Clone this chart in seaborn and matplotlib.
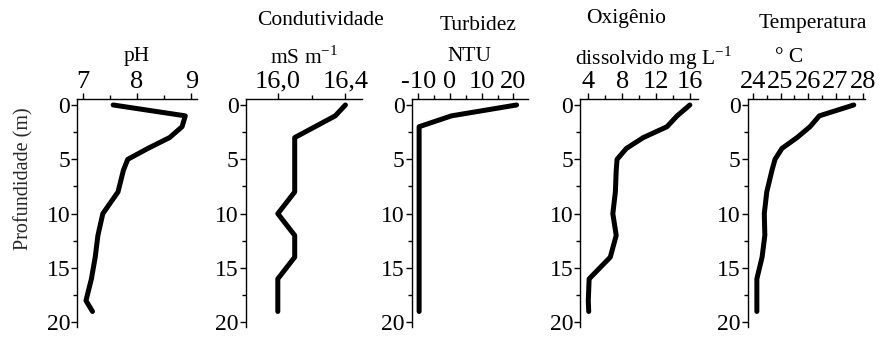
import matplotlib
matplotlib.use("Agg")
import matplotlib.pyplot as plt
import seaborn as sns
import numpy as np
import pandas as pd
from matplotlib.ticker import MultipleLocator, FixedLocator, FuncFormatter

depth = [0, 1, 2, 3, 4, 5, 6, 8, 10, 12, 14, 16, 18, 19]
ph = [7.56, 8.89, 8.83, 8.6, 8.2, 7.83, 7.75, 7.65, 7.37, 7.28, 7.23, 7.16, 7.06, 7.18]
cond = [16.4, 16.34, 16.22, 16.1, 16.1, 16.1, 16.1, 16.1, 16.0, 16.1, 16.1, 16.0, 16.0, 16.0]
turb = [21.0, 0.5, -9.7, -9.7, -9.7, -9.7, -9.7, -9.7, -9.7, -9.7, -9.7, -9.7, -9.7, -9.7]
oxy = [16.0, 14.5, 13.3, 10.5, 8.5, 7.4, 7.3, 7.2, 6.9, 7.3, 6.6, 4.1, 4.0, 4.05]
temp = [27.66, 26.41, 26.07, 25.6, 25.05, 24.8, 24.69, 24.5, 24.41, 24.43, 24.33, 24.14, 24.14, 24.14]

ph_ticks = [7, 8, 9]
cond_ticks = [16.0, 16.4]
turb_ticks = [-10, 0, 10, 20]
oxy_ticks = [4, 8, 12, 16]
temp_ticks = [24, 25, 26, 27, 28]
depth_ticks = [0, 5, 10, 15, 20]

sns.set_theme(style="white")
plt.rcParams["font.family"] = ["Liberation Serif", "DejaVu Serif"]
plt.rcParams["mathtext.fontset"] = "custom"
plt.rcParams["mathtext.rm"] = "Liberation Serif"

fig = plt.figure(figsize=(8.8, 3.37), dpi=100)
W, H = 880, 337
top_px, bot_px = 99, 326.7

panels = [
    (ph, (77.3, 196.7), (6.9, 9.1), ph_ticks, 0.5, None),
    (cond, (245.7, 362.3), (15.81, 16.5), cond_ticks, 0.2, lambda v, p: f"{v:.1f}".replace(".", ",")),
    (turb, (411.5, 528.3), (-12.1, 24.7), turb_ticks, 5, None),
    (oxy, (580, 698.3), (3.02, 17.0), oxy_ticks, 2, None),
    (temp, (747.5, 864.5), (23.8, 28.05), temp_ticks, 0.5, None),
]

axes = []
for vals, (l, r), xlim, ticks, minor, fmt in panels:
    ax = fig.add_axes([l / W, 1 - bot_px / H, (r - l) / W, (bot_px - top_px) / H])
    df = pd.DataFrame({"v": vals, "d": depth})
    sns.lineplot(data=df, x="v", y="d", sort=False, estimator=None,
                 color="black", linewidth=3.6, ax=ax)
    ax.set_xlim(*xlim)
    ax.set_ylim(20.4, -0.55)
    ax.xaxis.tick_top()
    ax.xaxis.set_major_locator(FixedLocator(ticks))
    ax.xaxis.set_minor_locator(MultipleLocator(minor))
    if fmt:
        ax.xaxis.set_major_formatter(FuncFormatter(fmt))
    else:
        ax.xaxis.set_major_formatter(FuncFormatter(lambda v, p: f"{v:g}"))
    ax.yaxis.set_major_locator(FixedLocator(depth_ticks))
    ax.yaxis.set_minor_locator(MultipleLocator(2.5))
    for s in ["right", "bottom"]:
        ax.spines[s].set_visible(False)
    for s in ["left", "top"]:
        ax.spines[s].set_color("black")
        ax.spines[s].set_linewidth(1.0)
    ax.tick_params(axis="both", which="major", direction="out", length=4, width=1,
                   pad=1, colors="black")
    ax.tick_params(axis="x", which="major", labelsize=19, pad=0.5)
    ax.tick_params(axis="y", which="major", labelsize=17)
    ax.tick_params(axis="both", which="minor", direction="out", length=3, width=1, colors="black")
    ax.tick_params(axis="x", which="both", top=True, bottom=False)
    ax.tick_params(axis="y", which="both", left=True, right=False)
    ax.set_xlabel("")
    ax.set_ylabel("")
    ax.grid(False)
    axes.append(ax)

axes[0].set_ylabel("Profundidade (m)", fontsize=14.5)
axes[0].yaxis.set_label_coords(-0.37, 0.65)

def ftext(x, y, s, **kw):
    fig.text(x / W, 1 - y / H, s, ha="center", va="baseline", fontsize=15.5, color="black", **kw)

ftext(136.5, 61, "pH")
ftext(320.5, 25, "Condutividade")
ftext(304, 63.3, "mS m$^{\\mathregular{-1}}$")
ftext(478, 30, "Turbidez")
ftext(469, 61, "NTU")
ftext(626, 23.3, "Oxigênio")
ftext(654, 65, "dissolvido mg L$^{\\mathregular{-1}}$")
ftext(812.5, 28.3, "Temperatura")
ftext(789, 61.7, "° C")

fig.savefig("out.png", dpi=100)
